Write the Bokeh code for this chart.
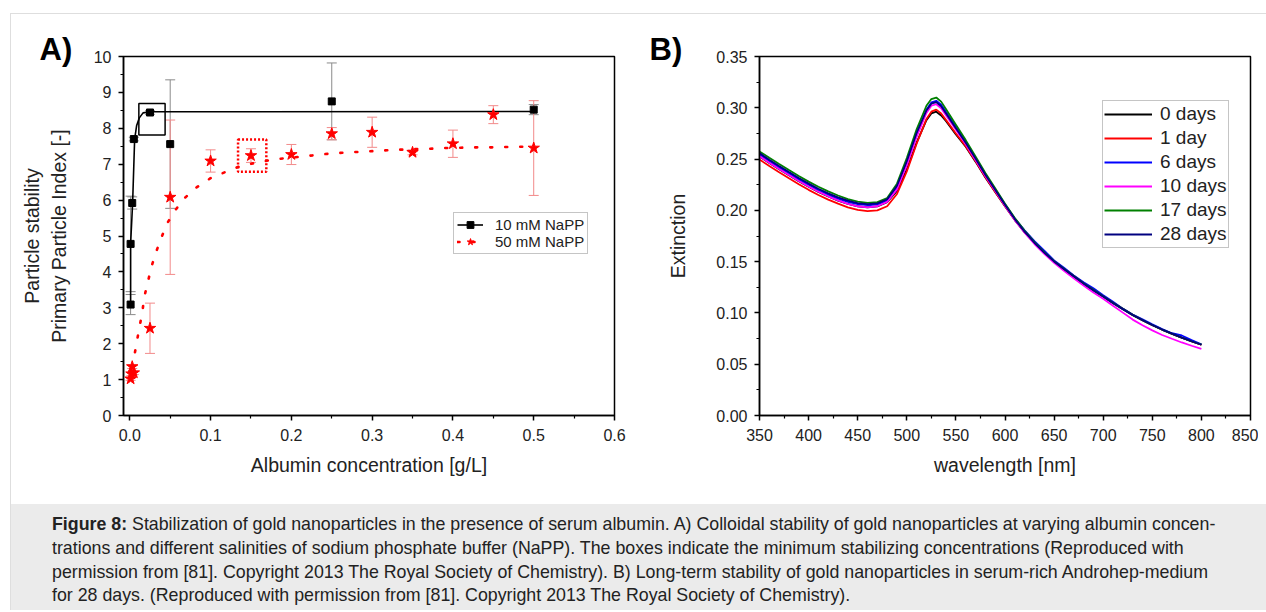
from bokeh.plotting import figure
from bokeh.models import (Range1d, FixedTicker, NumeralTickFormatter, Whisker, TeeHead,
                          ColumnDataSource, Legend, LegendItem, Title, Div, Spacer)
from bokeh.layouts import row, column
from bokeh.embed import file_html
from bokeh.resources import INLINE

FONT = "Liberation Sans"

# ---------------- Panel A data ----------------
black_x = [0.001, 0.001, 0.003, 0.005, 0.025, 0.05, 0.25, 0.5]
black_y = [3.09, 4.78, 5.92, 7.70, 8.44, 7.56, 8.75, 8.52]
black_err = [0.28, 1.33, 0.17, 0.05, 0.05, 1.79, 1.07, 0.14]

red_x = [0.001, 0.002, 0.003, 0.005, 0.025, 0.05, 0.1, 0.15, 0.2, 0.25, 0.3, 0.35, 0.4, 0.45, 0.5]
red_y = [1.02, 1.16, 1.36, 1.19, 2.43, 6.08, 7.09, 7.24, 7.27, 7.85, 7.89, 7.33, 7.57, 8.38, 7.45]
red_err = [0.04, 0.05, 0.05, 0.05, 0.70, 2.15, 0.31, 0.19, 0.28, 0.17, 0.42, 0.07, 0.38, 0.25, 1.32]

fit_black_x = [0.001, 0.001, 0.0035, 0.006, 0.0085, 0.0118, 0.0164, 0.025, 0.5]
fit_black_y = [3.09, 4.78, 5.92, 7.70, 8.08, 8.29, 8.43, 8.46, 8.47]

fit_red_x = [0.003, 0.005, 0.0085, 0.012, 0.0155, 0.018, 0.0226, 0.027, 0.033, 0.0395, 0.047,
             0.057, 0.068, 0.083, 0.100, 0.118, 0.136, 0.154, 0.175, 0.193, 0.213, 0.232,
             0.25, 0.27, 0.29, 0.31, 0.33, 0.35, 0.37, 0.39, 0.41, 0.43, 0.45, 0.47, 0.50]
fit_red_y = [1.35, 1.58, 2.03, 2.46, 2.88, 3.31, 3.74, 4.16, 4.58, 4.98, 5.38,
             5.74, 6.06, 6.36, 6.61, 6.78, 6.94, 7.03, 7.12, 7.17, 7.21, 7.26,
             7.30, 7.33, 7.35, 7.38, 7.40, 7.42, 7.43, 7.45, 7.46, 7.47, 7.47, 7.48, 7.49]

# minimum stabilizing concentration boxes: [left, right, bottom, top]
box_black = [0.0112, 0.0437, 7.81, 8.69]
box_red = [0.134, 0.169, 6.79, 7.69]

xa_ticks = [0.0, 0.1, 0.2, 0.3, 0.4, 0.5, 0.6]
xa_minor = [0.05, 0.15, 0.25, 0.35, 0.45, 0.55]
ya_ticks = [0, 1, 2, 3, 4, 5, 6, 7, 8, 9, 10]
ya_minor = [0.5, 1.5, 2.5, 3.5, 4.5, 5.5, 6.5, 7.5, 8.5, 9.5]
series_a = ["10 mM NaPP", "50 mM NaPP"]

# ---------------- Panel B data ----------------
wl = [350, 360, 370, 380, 390, 400, 410, 420, 430, 440, 450, 460, 470, 480, 490, 500, 510,
      520, 525, 530, 535, 540, 550, 560, 570, 580, 590, 600, 610, 620, 630, 640, 650, 660,
      670, 680, 690, 700, 710, 720, 730, 740, 750, 760, 770, 780, 790, 800]

ext_0d = [.2525, .2462, .2402, .2343, .2285, .2230, .2180, .2135, .2095, .2062, .2040, .2030,
          .2038, .2080, .2190, .2400, .2660, .2880, .2945, .2962, .2925, .2870, .2740, .2620,
          .2475, .2320, .2180, .2040, .1905, .1785, .1680, .1585, .1500, .1425, .1355, .1285,
          .1220, .1160, .1095, .1035, .0978, .0928, .0880, .0836, .0796, .0758, .0722, .0690]
ext_1d = [.2495, .2432, .2372, .2313, .2255, .2200, .2150, .2105, .2065, .2030, .2005, .1993,
          .2000, .2040, .2160, .2380, .2650, .2890, .2962, .2982, .2945, .2880, .2750, .2625,
          .2480, .2325, .2182, .2042, .1908, .1790, .1685, .1590, .1506, .1432, .1362, .1292,
          .1226, .1165, .1102, .1040, .0982, .0930, .0882, .0838, .0798, .0760, .0724, .0690]
ext_6d = [.2545, .2482, .2421, .2362, .2304, .2249, .2199, .2154, .2115, .2083, .2061, .2050,
          .2058, .2098, .2225, .2465, .2745, .2980, .3052, .3068, .3030, .2960, .2815, .2672,
          .2512, .2352, .2205, .2060, .1920, .1805, .1700, .1608, .1512, .1440, .1365, .1298,
          .1240, .1172, .1108, .1042, .0985, .0938, .0888, .0842, .0802, .0780, .0735, .0695]
ext_10d = [.2528, .2465, .2404, .2345, .2287, .2232, .2182, .2137, .2097, .2063, .2040, .2030,
           .2040, .2082, .2205, .2440, .2715, .2950, .3020, .3035, .2995, .2925, .2785, .2645,
           .2490, .2335, .2190, .2045, .1905, .1782, .1672, .1575, .1488, .1410, .1338, .1268,
           .1200, .1138, .1070, .1003, .0935, .0880, .0830, .0785, .0748, .0712, .0680, .0650]
ext_17d = [.2575, .2512, .2452, .2393, .2335, .2280, .2230, .2185, .2145, .2110, .2086, .2072,
           .2080, .2120, .2260, .2510, .2790, .3020, .3085, .3100, .3060, .2985, .2835, .2685,
           .2525, .2365, .2215, .2065, .1925, .1800, .1690, .1592, .1505, .1430, .1360, .1290,
           .1225, .1163, .1100, .1040, .0982, .0930, .0882, .0838, .0798, .0760, .0724, .0692]
ext_28d = [.2558, .2494, .2433, .2374, .2316, .2261, .2211, .2166, .2127, .2094, .2071, .2060,
           .2068, .2108, .2240, .2480, .2755, .2975, .3040, .3055, .3015, .2945, .2800, .2660,
           .2505, .2348, .2200, .2055, .1915, .1792, .1684, .1588, .1502, .1428, .1357, .1288,
           .1222, .1160, .1097, .1037, .0980, .0930, .0882, .0838, .0798, .0760, .0724, .0690]

days_labels = ["0 days", "1 day", "6 days", "10 days", "17 days", "28 days"]
days_colors = ["#000000", "#ff0000", "#0000ff", "#ff00ff", "#008000", "#000080"]

xb_ticks = [350, 400, 450, 500, 550, 600, 650, 700, 750, 800, 850]
xb_minor = [375, 425, 475, 525, 575, 625, 675, 725, 775, 825]
yb_ticks = [0.0, 0.05, 0.10, 0.15, 0.20, 0.25, 0.30, 0.35]
yb_minor = [0.025, 0.075, 0.125, 0.175, 0.225, 0.275, 0.325]

caption_html = (
    "<b>Figure 8:</b> Stabilization of gold nanoparticles in the presence of serum albumin. "
    "A) Colloidal stability of gold nanoparticles at varying albumin concen-<br>"
    "trations and different salinities of sodium phosphate buffer (NaPP). The boxes indicate "
    "the minimum stabilizing concentrations (Reproduced with<br>"
    "permission from [81]. Copyright 2013 The Royal Society of Chemistry). B) Long-term "
    "stability of gold nanoparticles in serum-rich Androhep-medium<br>"
    "for 28 days. (Reproduced with permission from [81]. Copyright 2013 The Royal Society of Chemistry)."
)


def style(p):
    for ax in (p.xaxis[0], p.yaxis[0]):
        ax.axis_line_width = 1.5
        ax.axis_line_color = "black"
        ax.major_tick_line_width = 1.5
        ax.major_tick_line_color = "black"
        ax.minor_tick_line_width = 1.2
        ax.minor_tick_line_color = "black"
        ax.major_tick_out = 5
        ax.major_tick_in = 0
        ax.minor_tick_out = 3
        ax.minor_tick_in = 0
        ax.major_label_text_font = FONT
        ax.major_label_text_font_size = "16px"
        ax.major_label_text_color = "#222222"
        ax.axis_label_text_font = FONT
        ax.axis_label_text_font_size = "19.5px"
        ax.axis_label_text_font_style = "normal"
        ax.axis_label_text_color = "#222222"
    p.xaxis[0].major_label_standoff = 8
    p.yaxis[0].major_label_standoff = 7
    p.xgrid.visible = False
    p.ygrid.visible = False
    p.outline_line_color = "black"
    p.outline_line_width = 1.5
    p.outline_line_alpha = 1.0
    p.background_fill_color = "white"
    p.border_fill_color = "white"


def panel_title(text, offset):
    return Title(text=text, align="left", offset=offset, standoff=-21,
                 text_font=FONT, text_font_style="bold", text_font_size="31px",
                 text_color="black")


# ---------------- Panel A ----------------
pA = figure(width=619, height=490, x_range=Range1d(-0.0078, 0.6), y_range=Range1d(0, 10),
            output_backend="svg", toolbar_location=None,
            min_border_left=112, min_border_right=16, min_border_top=42, min_border_bottom=89)
style(pA)
pA.xaxis[0].ticker = FixedTicker(ticks=xa_ticks, minor_ticks=xa_minor)
pA.xaxis[0].formatter = NumeralTickFormatter(format="0.0")
pA.yaxis[0].ticker = FixedTicker(ticks=ya_ticks, minor_ticks=ya_minor)
pA.xaxis[0].axis_label = "Albumin concentration [g/L]"
pA.yaxis[0].axis_label = "Particle stability\nPrimary Particle Index [-]"
pA.xaxis[0].axis_label_standoff = 10
pA.yaxis[0].axis_label_standoff = 21

src_b = ColumnDataSource(dict(x=black_x, y=black_y,
                              lo=[v - e for v, e in zip(black_y, black_err)],
                              hi=[v + e for v, e in zip(black_y, black_err)]))
src_r = ColumnDataSource(dict(x=red_x, y=red_y,
                              lo=[v - e for v, e in zip(red_y, red_err)],
                              hi=[v + e for v, e in zip(red_y, red_err)]))

pA.add_layout(Whisker(source=src_b, base="x", lower="lo", upper="hi", line_color="#8a8a8a", line_width=1,
                      upper_head=TeeHead(size=10, line_color="#8a8a8a", line_width=1),
                      lower_head=TeeHead(size=10, line_color="#8a8a8a", line_width=1)))
pA.add_layout(Whisker(source=src_r, base="x", lower="lo", upper="hi", line_color="#f28a8a", line_width=1,
                      upper_head=TeeHead(size=10, line_color="#f28a8a", line_width=1),
                      lower_head=TeeHead(size=10, line_color="#f28a8a", line_width=1)))

pA.quad(left=[box_black[0]], right=[box_black[1]], bottom=[box_black[2]], top=[box_black[3]],
        fill_alpha=0, line_color="black", line_width=1.5)
pA.quad(left=[box_red[0]], right=[box_red[1]], bottom=[box_red[2]], top=[box_red[3]],
        fill_alpha=0, line_color="red", line_width=2.5, line_dash="2 2")

lb = pA.line(fit_black_x, fit_black_y, line_color="black", line_width=1.6)
lr = pA.line(fit_red_x, fit_red_y, line_color="red", line_width=2.6, line_dash="2 13", line_cap="round")
sb = pA.scatter("x", "y", source=src_b, marker="square", size=7, color="black")
sr = pA.scatter("x", "y", source=src_r, marker="star", size=12, color="red")

legA = Legend(items=[LegendItem(label=series_a[0], renderers=[lb, sb]),
                     LegendItem(label=series_a[1], renderers=[lr, sr])],
              location=(330, 161), padding=3, spacing=0, margin=0,
              glyph_width=26, glyph_height=17, label_height=17, label_standoff=12,
              label_text_font=FONT, label_text_font_size="15px", label_text_color="#222222",
              border_line_color="#8c8c8c", border_line_width=1, background_fill_alpha=1)
pA.add_layout(legA)
pA.add_layout(panel_title("A)", -84), "above")

# ---------------- Panel B ----------------
pB = figure(width=628, height=490, x_range=Range1d(350, 850), y_range=Range1d(0, 0.35),
            output_backend="svg", toolbar_location=None,
            min_border_left=129, min_border_right=8, min_border_top=42, min_border_bottom=89)
style(pB)
pB.xaxis[0].ticker = FixedTicker(ticks=xb_ticks, minor_ticks=xb_minor)
pB.yaxis[0].ticker = FixedTicker(ticks=yb_ticks, minor_ticks=yb_minor)
pB.yaxis[0].formatter = NumeralTickFormatter(format="0.00")
pB.xaxis[0].axis_label = "wavelength [nm]"
pB.yaxis[0].axis_label = "Extinction"
pB.xaxis[0].axis_label_standoff = 10
pB.yaxis[0].axis_label_standoff = 24

series_b = [ext_0d, ext_1d, ext_6d, ext_10d, ext_17d, ext_28d]
items = []
for lab, col, ys in zip(days_labels, days_colors, series_b):
    r = pB.line(wl, ys, line_color=col, line_width=1.8)
    items.append(LegendItem(label=lab, renderers=[r]))

legB = Legend(items=items, location=(343, 167), padding=1, spacing=0, margin=0,
              glyph_width=48, glyph_height=24, label_height=24, label_standoff=8,
              label_text_font=FONT, label_text_font_size="19px", label_text_color="#222222",
              border_line_color="#8c8c8c", border_line_width=1, background_fill_alpha=1)
pB.add_layout(legB)
pB.add_layout(panel_title("B)", -110), "above")

# ---------------- layout ----------------
cap = Div(text=("<div style=\"width:1255px;height:106px;background:#ebebeb;box-sizing:border-box;"
                "padding:9px 0 0 41px;font-family:'Liberation Sans',Arial,sans-serif;font-size:17.8px;"
                "line-height:23.8px;color:#222;white-space:nowrap;overflow:hidden;\">"
                + caption_html + "</div>"),
          width=1255, height=106, margin=0)

hline = Spacer(width=1255, height=1, margin=0, styles={"background-color": "#dedede"})
vline = Spacer(width=1, height=597, margin=0, styles={"background-color": "#dedede"})

root = column(Spacer(width=1258, height=13, margin=0),
              row(Spacer(width=10, height=597, margin=0), vline,
                  column(hline, row(pA, pB), cap)))

open("out.html", "w").write(file_html(root, INLINE))
